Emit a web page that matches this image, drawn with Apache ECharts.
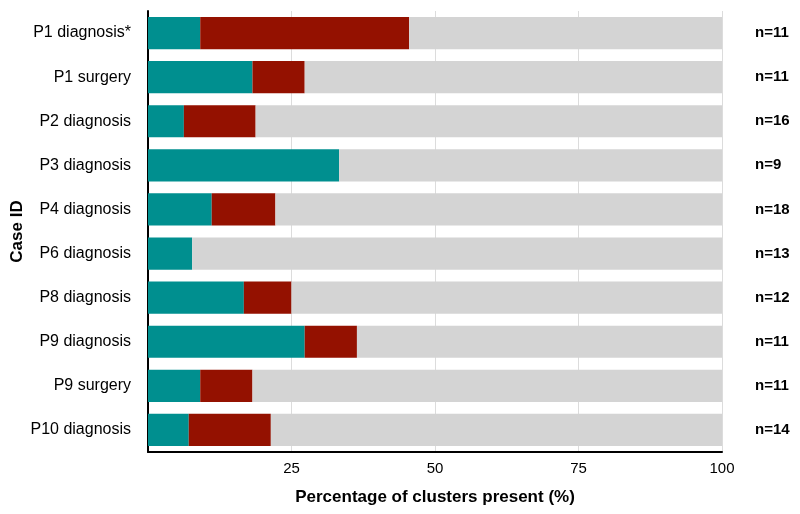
<!DOCTYPE html>
<html>
<head>
<meta charset="utf-8">
<script src="https://cdn.jsdelivr.net/npm/echarts@6/dist/echarts.min.js"></script>
<style>
  html, body { margin: 0; padding: 0; background: #fff; }
  #chart { width: 800px; height: 514px; }
</style>
</head>
<body>
<div id="chart"></div>
<script>
// case IDs, top to bottom
var cases = ['P1 diagnosis*', 'P1 surgery', 'P2 diagnosis', 'P3 diagnosis', 'P4 diagnosis',
  'P6 diagnosis', 'P8 diagnosis', 'P9 diagnosis', 'P9 surgery', 'P10 diagnosis'];
var nLabels = ['n=11', 'n=11', 'n=16', 'n=9', 'n=18', 'n=13', 'n=12', 'n=11', 'n=11', 'n=14'];
// percentages
var teal = [9.1, 18.2, 6.25, 33.3, 11.1, 7.7, 16.7, 27.3, 9.1, 7.1];
var red = [36.4, 9.1, 12.5, 0, 11.1, 0, 8.3, 9.1, 9.1, 14.3];
var grey = [54.5, 72.7, 81.25, 66.7, 77.8, 92.3, 75, 63.6, 81.8, 78.6];

var font = 'Liberation Sans, Arial, Helvetica, sans-serif';
var chart = echarts.init(document.getElementById('chart'));

chart.setOption({
  animation: false,
  grid: { left: 148, right: 78, top: 11, bottom: 62, containLabel: false, outerBoundsMode: 'none' },
  xAxis: {
    type: 'value',
    min: 0,
    max: 100,
    interval: 25,
    name: 'Percentage of clusters present (%)',
    nameLocation: 'middle',
    nameGap: 37,
    nameTextStyle: { fontFamily: font, fontSize: 17, fontWeight: 'bold', color: '#000' },
    axisLine: { show: true, lineStyle: { color: '#000', width: 2 } },
    axisTick: { show: false },
    axisLabel: {
      fontFamily: font, fontSize: 15, color: '#000', margin: 9,
      formatter: function (v) { return v === 0 ? '' : v; }
    },
    splitLine: { show: true, lineStyle: { color: '#dcdcdc', width: 1 } }
  },
  yAxis: [{
    type: 'category',
    data: cases,
    inverse: true,
    name: 'Case ID',
    nameLocation: 'middle',
    nameGap: 122,
    nameRotate: 90,
    nameMoveOverlap: false,
    nameTextStyle: { fontFamily: font, fontSize: 17, fontWeight: 'bold', color: '#000' },
    axisLine: { show: true, lineStyle: { color: '#000', width: 2 } },
    axisTick: { show: false },
    axisLabel: { fontFamily: font, fontSize: 16, color: '#000', margin: 17 }
  }, {
    type: 'category',
    data: nLabels,
    inverse: true,
    position: 'right',
    axisLine: { show: false },
    axisTick: { show: false },
    axisLabel: { fontFamily: font, fontSize: 15, fontWeight: 'bold', color: '#000', margin: 33, align: 'left' }
  }],
  series: [
    { type: 'bar', stack: 'all', data: teal, barCategoryGap: '27%', itemStyle: { color: '#008f8f' } },
    { type: 'bar', stack: 'all', data: red, itemStyle: { color: '#941100' } },
    { type: 'bar', stack: 'all', data: grey, itemStyle: { color: '#d4d4d4' } }
  ]
});
</script>
</body>
</html>
